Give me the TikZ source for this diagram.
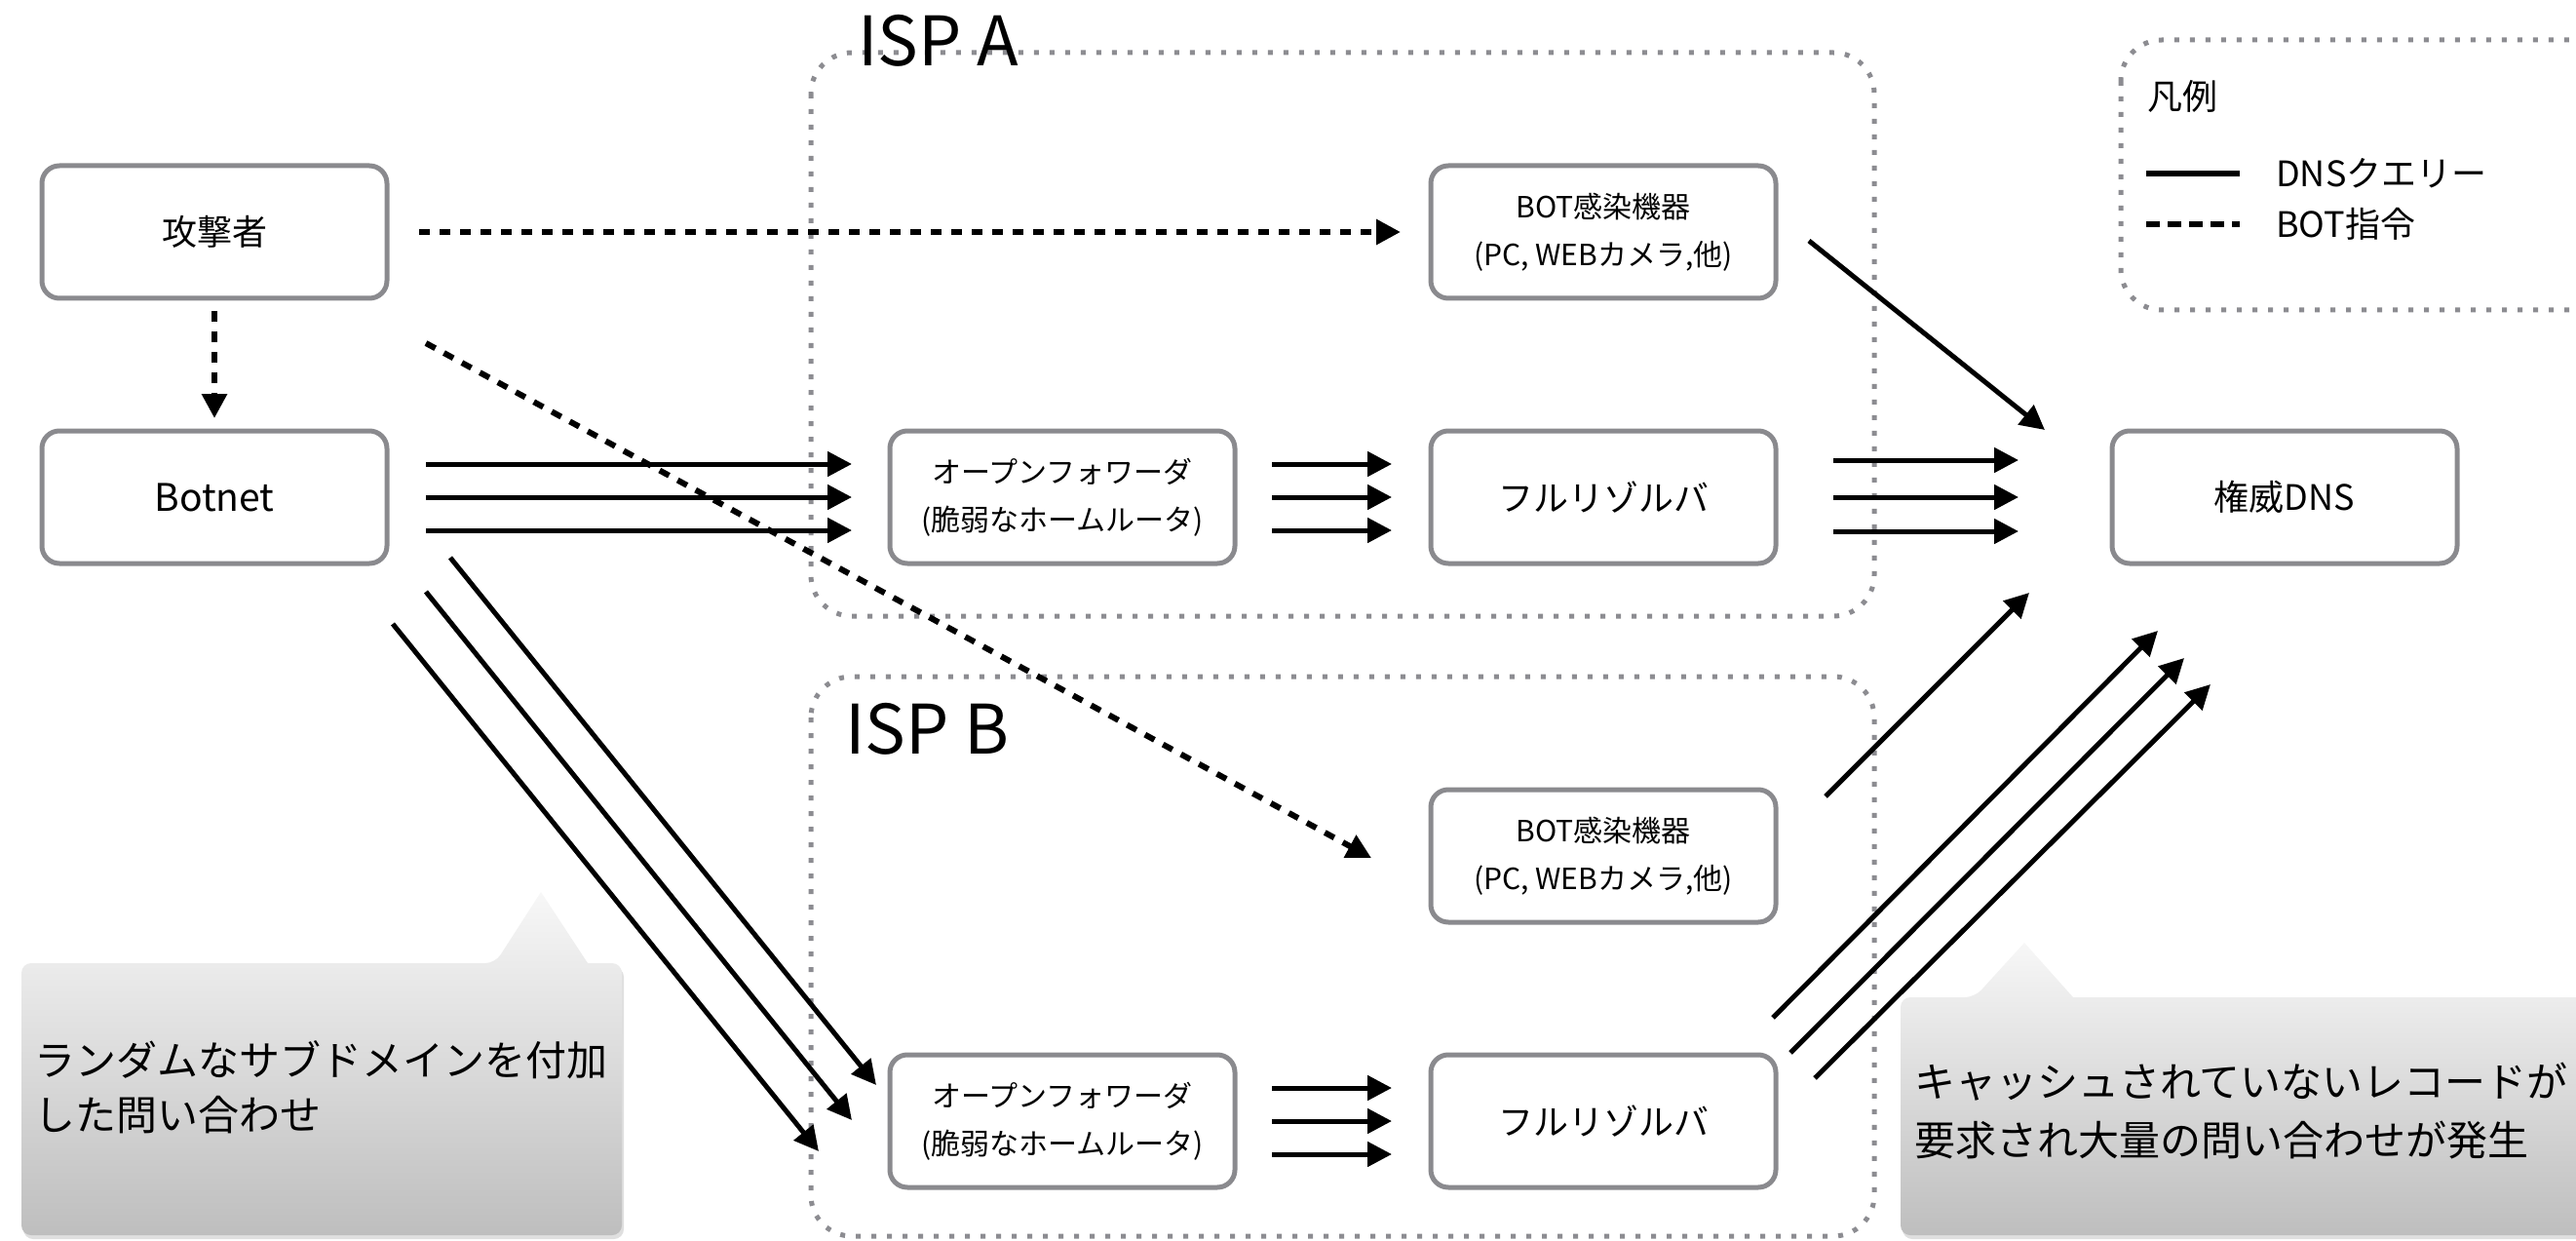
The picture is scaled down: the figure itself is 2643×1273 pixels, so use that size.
\documentclass[tikz,border=0pt]{standalone}
\usepackage{fontspec}
\setmainfont{Noto Sans CJK JP}
\usetikzlibrary{arrows.meta,calc,shadows}

\definecolor{boxgray}{RGB}{138,138,142}
\definecolor{dotgray}{RGB}{140,140,145}
\definecolor{notetop}{RGB}{247,247,247}
\definecolor{notebottom}{RGB}{190,190,190}

\begin{document}
\begin{tikzpicture}[x=1pt,y=-1pt,
  box/.style={draw=boxgray, line width=5pt, rounded corners=18pt, fill=white,
    minimum width=354pt, minimum height=136pt, outer sep=0pt, inner sep=0pt, align=center},
  big/.style={font=\fontsize{36pt}{44pt}\selectfont},
  latin/.style={font=\fontsize{39pt}{46pt}\selectfont},
  small/.style={font=\fontsize{30pt}{49pt}\selectfont},
  region/.style={draw=dotgray, line width=5pt, dash pattern=on 5pt off 11pt, rounded corners=42pt},
  query/.style={line width=5pt, -{Triangle[length=25pt,width=25pt]}},
  order/.style={line width=6pt, dash pattern=on 11pt off 10pt, -{Triangle[length=25pt,width=25pt]}},
  callout/.style={top color=notetop, bottom color=notebottom,
    drop shadow={opacity=0.25, shadow xshift=2pt, shadow yshift=-4pt}},
  notetext/.style={anchor=west, align=left, inner sep=0pt},
  title/.style={anchor=base west, inner sep=0pt, font=\fontsize{70pt}{84pt}\selectfont},
]
\useasboundingbox (0,0) rectangle (2643,1273);
\clip (0,0) rectangle (2643,1273);

% ISP regions and legend frame
\draw[region] (832,54) rectangle (1923,632);
\draw[region] (832,694) rectangle (1923,1268);
\draw[region] (2176,41) rectangle (2681,318);
\node[title] (ispA) at (880,68) {ISP A};
\node[title] (ispB) at (867,773) {ISP B};

% legend
\node[anchor=west, inner sep=0pt, big] (lgtitle) at (2203,99) {凡例};
\coordinate (lq1) at (2202,178); \coordinate (lq2) at (2298,178);
\coordinate (lo1) at (2202,230); \coordinate (lo2) at (2298,230);
\draw[line width=6pt] (lq1) -- (lq2);
\draw[line width=6pt, dash pattern=on 14pt off 8pt] (lo1) -- (lo2);
\node[anchor=west, inner sep=0pt, big] (lgq) at (2335,178) {DNSクエリー};
\node[anchor=west, inner sep=0pt, big] (lgo) at (2335,230) {BOT指令};

% boxes
\node[box,big]   (atk)  at (220,238)   {攻撃者};
\node[box,latin] (bot)  at (220,510)   {Botnet};
\node[box,small] (botA) at (1645,238)  {BOT感染機器\\(PC, WEBカメラ,他)};
\node[box,small] (ofA)  at (1090,510)  {オープンフォワーダ\\(脆弱なホームルータ)};
\node[box,big]   (frA)  at (1645,510)  {フルリゾルバ};
\node[box,big]   (auth) at (2344,510)  {権威DNS};
\node[box,small] (botB) at (1645,878)  {BOT感染機器\\(PC, WEBカメラ,他)};
\node[box,small] (ofB)  at (1090,1150) {オープンフォワーダ\\(脆弱なホームルータ)};
\node[box,big]   (frB)  at (1645,1150) {フルリゾルバ};

% bot commands
\draw[order] ($(atk.east)+(33,0)$) -- ($(botA.west)+(-31,0)$);
\draw[order] ($(atk.south)+(0,13)$) -- ($(bot.north)+(0,-13)$);
\draw[order] ($(atk.south east)+(40,46)$) -- ($(botB.west)+(-61,2)$);

% DNS queries, bundles of three
\foreach \d in {-34,0,34} {
  \draw[query] ($(bot.east)+(40,\d)$) -- ($(ofA.west)+(-39,\d)$);
  \draw[query] ($(ofA.east)+(38,\d)$) -- ($(frA.west)+(-40,\d)$);
  \draw[query] ($(ofB.east)+(38,\d)$) -- ($(frB.west)+(-40,\d)$);
}
\foreach \d in {-38,0,35} {
  \draw[query] ($(frA.east)+(59,\d)$) -- ($(auth.west)+(-96,\d)$);
}
\draw[query] ($(bot.south east)+(65,-6)$) -- ($(ofB.west)+(-14,-37)$);
\draw[query] ($(bot.south east)+(40,29)$) -- ($(ofB.west)+(-39,-1)$);
\draw[query] ($(bot.south east)+(6,62)$) -- ($(ofB.west)+(-73,31)$);
\draw[query] ($(botA.east)+(34,9)$) -- ($(auth.north west)+(-69,-1)$);
\draw[query] ($(botB.north east)+(51,7)$) -- ($(auth.south west)+(-85,30)$);
\draw[query] ($(frB.north east)+(-3,-38)$) -- ($(auth.south)+(-130,69)$);
\draw[query] ($(frB.north east)+(15,-2)$) -- ($(auth.south)+(-103,97)$);
\draw[query] ($(frB.north east)+(40,24)$) -- ($(auth.south)+(-76,124)$);

% callouts
\path[callout] (22,1127) [rounded corners=10pt] -- (22,988) -- (508,988)
  [sharp corners] -- (555,915) -- (603,988)
  [rounded corners=10pt] -- (638,988) -- (638,1267) -- (22,1267) -- cycle;
\node[notetext, font=\fontsize{42pt}{56pt}\selectfont] (note1) at (35,1115)
  {ランダムなサブドメインを付加\\した問い合わせ};

\path[callout] (1950,1145) [rounded corners=10pt] -- (1950,1023) -- (2026,1023)
  [sharp corners] -- (2077,967) -- (2127,1023)
  [rounded corners=10pt] -- (2690,1023) -- (2690,1267) -- (1950,1267) -- cycle;
\node[notetext, font=\fontsize{42pt}{60pt}\selectfont] (note2) at (1964,1140)
  {キャッシュされていないレコードが\\要求され大量の問い合わせが発生};
\end{tikzpicture}
\end{document}
